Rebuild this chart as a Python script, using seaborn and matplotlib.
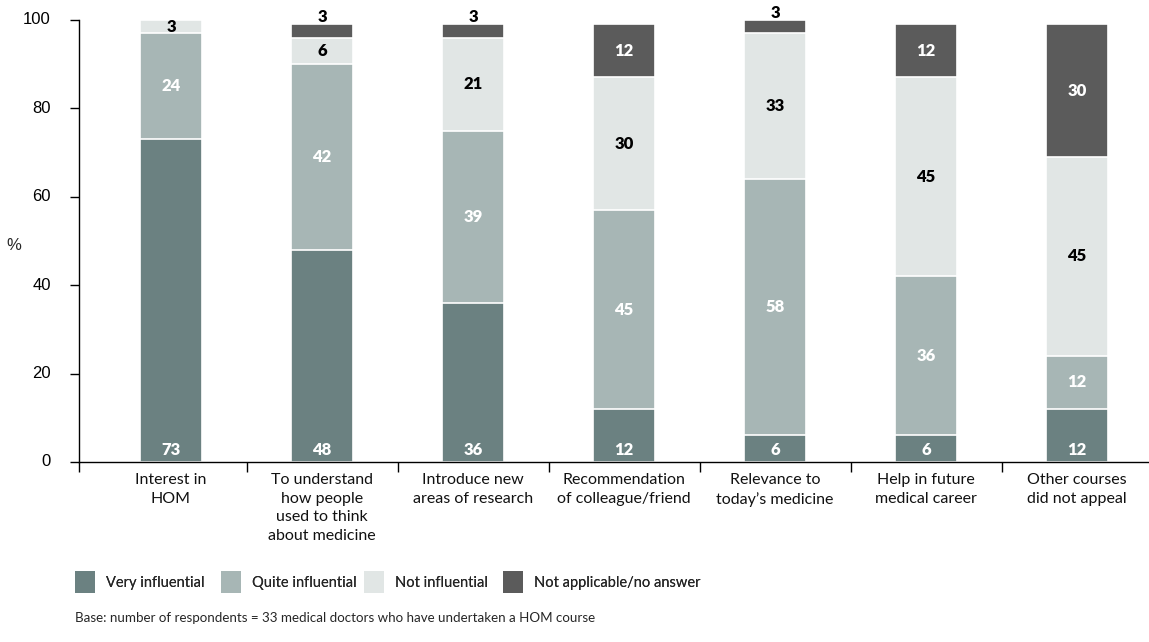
import numpy as np
import pandas as pd
import matplotlib
matplotlib.use("Agg")
import matplotlib.pyplot as plt
import matplotlib.transforms as mtransforms
from matplotlib.patches import Patch
import seaborn as sns

categories = [
    "Interest in\nHOM",
    "To understand\nhow people\nused to think\nabout medicine",
    "Introduce new\nareas of research",
    "Recommendation\nof colleague/friend",
    "Relevance to\ntoday\u2019s medicine",
    "Help in future\nmedical career",
    "Other courses\ndid not appeal",
]
very_influential = [73, 48, 36, 12, 6, 6, 12]
quite_influential = [24, 42, 39, 45, 58, 36, 12]
not_influential = [3, 6, 21, 30, 33, 45, 45]
not_applicable = [0, 3, 3, 12, 3, 12, 30]
series_names = ["Very influential", "Quite influential", "Not influential",
                "Not applicable/no answer"]
y_ticks = [0, 20, 40, 60, 80, 100]
note = "Base: number of respondents = 33 medical doctors who have undertaken a HOM course"

colors = ["#6b8181", "#a7b6b5", "#e1e6e5", "#5b5b5b"]
label_colors = ["white", "white", "black", "white"]

sns.set_theme(style="white")
plt.rcParams["font.family"] = ["Lato", "DejaVu Sans"]

values = np.array([very_influential, quite_influential, not_influential,
                   not_applicable], dtype=float)
cum = np.cumsum(values, axis=0)

W, H = 1149, 642
fig = plt.figure(figsize=(W / 100, H / 100), dpi=100)
ax = fig.add_axes([79 / W, 1 - 462 / H, 1 - 79 / W, (462 - 20) / H])

x_idx = list(range(len(categories)))
bar_w = 0.41
# draw stacked bars from the top segment down so lower segments overlay
for k in range(3, -1, -1):
    df = pd.DataFrame({"cat": x_idx, "val": cum[k]})
    sns.barplot(data=df, x="cat", y="val", color=colors[k], width=bar_w,
                saturation=1, edgecolor="white", linewidth=1.2, ax=ax,
                native_scale=True)

# segment labels
for i in x_idx:
    for k in range(4):
        v = values[k, i]
        if v <= 0:
            continue
        lo = cum[k, i] - v
        if k == 0:
            y, col = 2.8, "white"
        elif k == 3 and v < 5:
            y, col = cum[k, i] + 1.6, "black"
        else:
            y, col = lo + v / 2, label_colors[k]
        ax.text(i, y, f"{int(v)}", ha="center", va="center", color=col,
                fontsize=12, fontweight="heavy", clip_on=False)

left = -0.5 - 16.5 / 151
right = 6 + 72 / 151
ax.set_xlim(left, right)
ax.set_ylim(0, 100)
ax.set_xlabel("")
ax.set_ylabel("")
fig.text(14 / W, 1 - 245 / H, "%", fontsize=12, family="Liberation Sans",
         ha="center", va="center")

# y axis: tick marks from the axis, labels set at a fixed offset
ax.set_yticks(y_ticks)
ax.tick_params(axis="y", which="major", length=6.5, width=1,
               direction="out", left=True, labelleft=False, color="black")
ylab_tr = mtransforms.blended_transform_factory(ax.transAxes, ax.transData)
for t in y_ticks:
    ax.text(-28 / (W - 79), t, str(t), transform=ylab_tr, ha="right",
            va="center", fontsize=12, family="Liberation Sans",
            color="black", clip_on=False)

ax.set_xticks(x_idx)
ax.set_xticklabels(categories, fontsize=11.5, linespacing=1.42, va="top")
ax.set_xticks([left] + [i + 0.5 for i in range(6)], minor=True)
ax.tick_params(axis="x", which="major", length=0, pad=8, colors="#111111")
ax.tick_params(axis="x", which="minor", length=7.2, width=1, direction="out",
               color="black", bottom=True)

for s in ["top", "right"]:
    ax.spines[s].set_visible(False)
for s in ["left", "bottom"]:
    ax.spines[s].set_color("black")
    ax.spines[s].set_linewidth(1)
ax.grid(False)

# legend: one entry per slot so each swatch sits at its own position
legend_x = [75, 221, 364, 503]
for name, c, lx in zip(series_names, colors, legend_x):
    leg = fig.legend([Patch(facecolor=c, edgecolor="none")], [name],
                     loc="center left", frameon=False,
                     bbox_to_anchor=(lx / W, 1 - 582 / H), fontsize=10.5,
                     handlelength=1.4, handleheight=1.85, handletextpad=0.7,
                     borderaxespad=0, borderpad=0)
    fig.add_artist(leg)

fig.text(75 / W, 1 - 618 / H, note, fontsize=9.6, va="center", ha="left")

fig.savefig("out.png", dpi=100)
